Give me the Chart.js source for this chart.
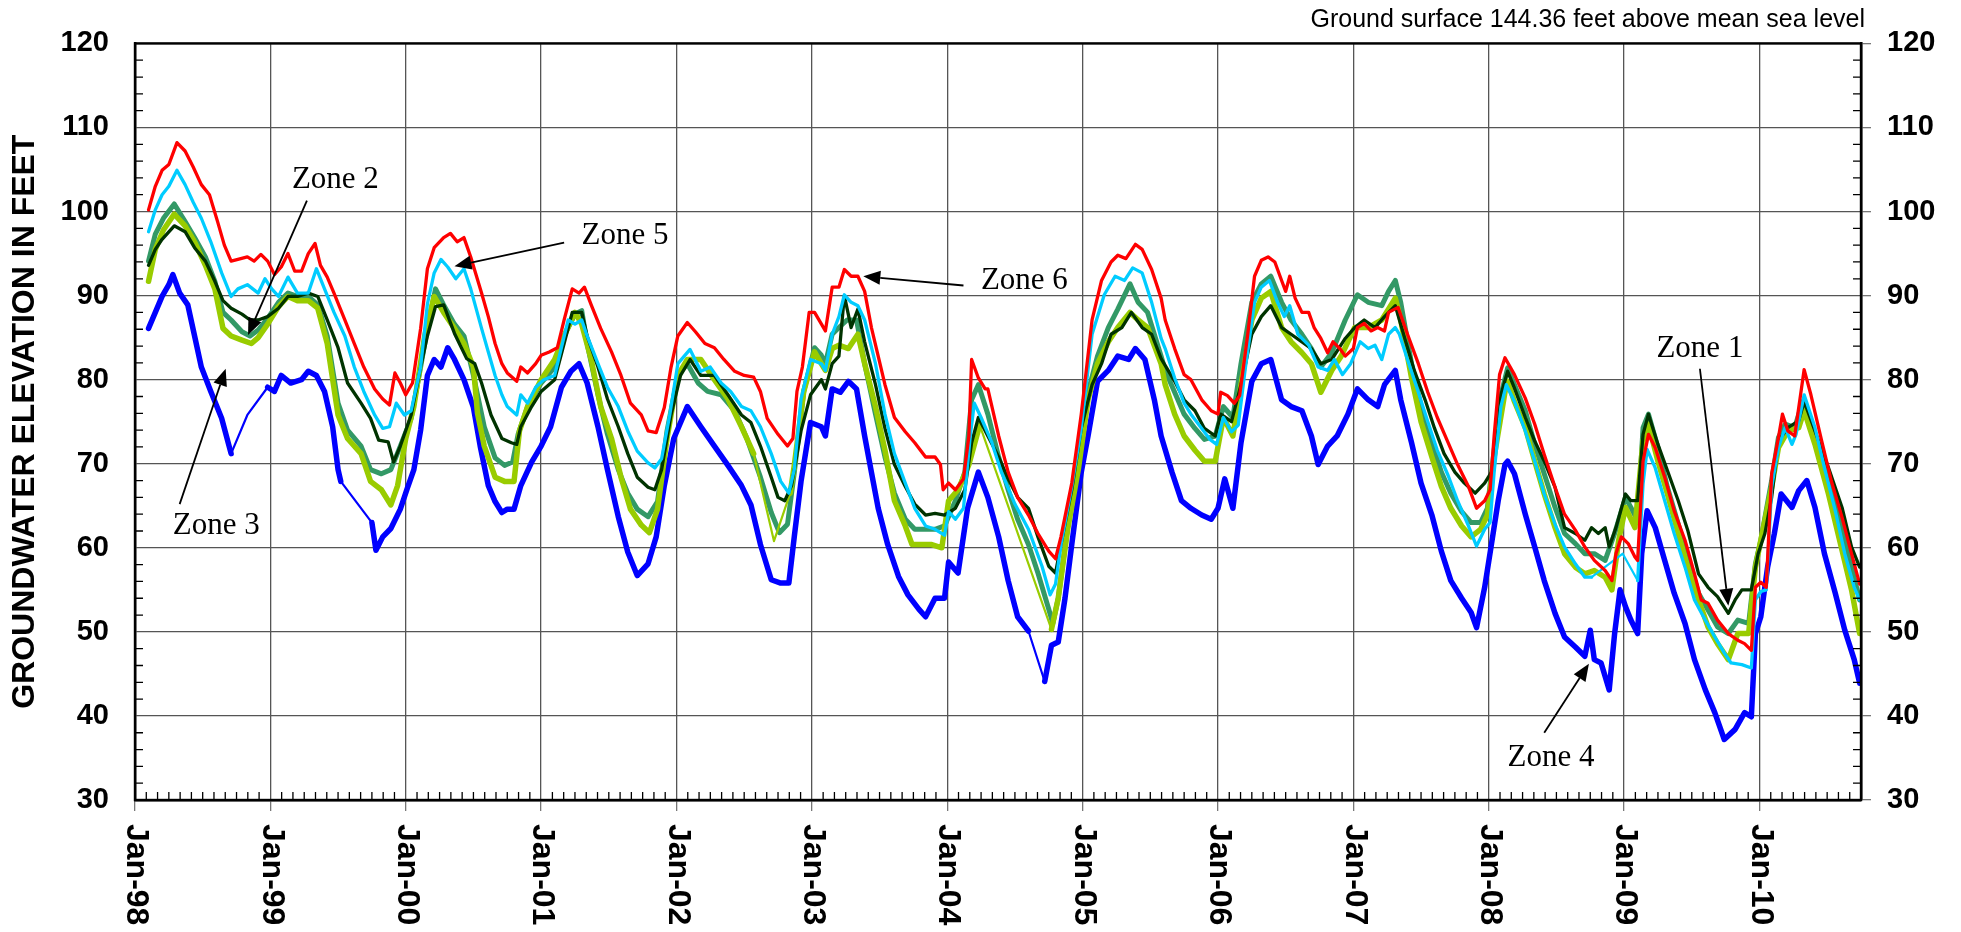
<!DOCTYPE html>
<html><head><meta charset="utf-8">
<script src="https://cdn.jsdelivr.net/npm/chart.js@4.4.0/dist/chart.umd.min.js"></script>
<style>html,body{margin:0;padding:0;background:#fff;}#wrap{width:1961px;height:932px;}</style>
</head><body><div id="wrap"><canvas id="c" width="1961" height="932"></canvas></div>
<script>
const tickYears = [1998,1999,2000,2001,2002,2003,2004,2005,2006,2007,2008,2009,2010];
const tickLabels = ['Jan-98','Jan-99','Jan-00','Jan-01','Jan-02','Jan-03','Jan-04','Jan-05','Jan-06','Jan-07','Jan-08','Jan-09','Jan-10'];
const yTitle = 'GROUNDWATER ELEVATION IN FEET';
const caption = 'Ground surface 144.36 feet above mean sea level';

const zone6 = [[1998.10,100.2],[1998.15,103.0],[1998.20,104.9],[1998.25,105.6],[1998.31,108.2],[1998.37,107.2],[1998.43,105.3],[1998.49,103.2],[1998.55,102.0],[1998.61,98.8],[1998.66,96.0],[1998.71,94.1],[1998.76,94.3],[1998.83,94.6],[1998.88,94.1],[1998.93,94.9],[1998.98,94.1],[1999.03,92.5],[1999.08,93.4],[1999.13,95.0],[1999.18,92.9],[1999.23,92.9],[1999.28,95.0],[1999.33,96.2],[1999.37,93.6],[1999.42,92.2],[1999.47,90.3],[1999.55,87.1],[1999.62,84.3],[1999.69,81.5],[1999.77,78.9],[1999.83,77.7],[1999.88,77.0],[1999.92,80.8],[1999.96,79.6],[2000.00,78.2],[2000.05,79.6],[2000.11,86.1],[2000.16,93.2],[2000.21,95.7],[2000.28,96.9],[2000.33,97.4],[2000.38,96.4],[2000.43,96.9],[2000.48,94.6],[2000.56,90.3],[2000.61,87.5],[2000.66,84.3],[2000.71,81.9],[2000.75,80.8],[2000.82,79.8],[2000.85,81.5],[2000.90,80.8],[2000.96,81.9],[2001.00,82.9],[2001.06,83.3],[2001.12,83.8],[2001.17,87.1],[2001.23,90.8],[2001.28,90.3],[2001.32,91.0],[2001.37,88.9],[2001.44,86.1],[2001.52,83.3],[2001.59,80.5],[2001.66,77.2],[2001.74,75.8],[2001.79,73.9],[2001.85,73.7],[2001.91,76.7],[2001.96,81.5],[2002.01,85.2],[2002.08,86.8],[2002.14,85.7],[2002.21,84.3],[2002.28,83.8],[2002.35,82.4],[2002.43,81.0],[2002.50,80.5],[2002.57,80.3],[2002.62,78.6],[2002.67,75.4],[2002.75,73.5],[2002.82,72.1],[2002.86,73.0],[2002.89,78.6],[2002.93,81.5],[2002.98,88.0],[2003.02,88.0],[2003.10,85.8],[2003.15,91.0],[2003.20,91.0],[2003.24,93.1],[2003.29,92.3],[2003.34,92.3],[2003.39,90.5],[2003.44,86.2],[2003.49,82.8],[2003.54,79.4],[2003.61,75.5],[2003.69,73.8],[2003.76,72.5],[2003.84,70.8],[2003.91,70.8],[2003.95,69.9],[2003.97,66.9],[2004.01,67.7],[2004.06,66.9],[2004.12,68.2],[2004.16,73.3],[2004.18,82.4],[2004.23,80.2],[2004.28,78.9],[2004.30,78.9],[2004.38,73.3],[2004.45,69.0],[2004.52,66.0],[2004.60,63.9],[2004.67,61.7],[2004.75,59.6],[2004.80,58.7],[2004.84,61.3],[2004.92,67.7],[2004.99,75.9],[2005.07,87.1],[2005.14,91.8],[2005.21,94.0],[2005.26,94.8],[2005.32,94.4],[2005.39,96.1],[2005.44,95.5],[2005.51,93.1],[2005.58,89.7],[2005.61,87.1],[2005.68,83.7],[2005.75,80.6],[2005.80,80.0],[2005.88,77.6],[2005.95,76.3],[2006.00,75.9],[2006.02,78.5],[2006.07,78.1],[2006.12,77.2],[2006.16,78.1],[2006.22,85.4],[2006.27,92.3],[2006.32,94.2],[2006.37,94.6],[2006.42,94.0],[2006.47,91.8],[2006.50,90.5],[2006.53,92.3],[2006.57,89.7],[2006.62,88.0],[2006.67,88.0],[2006.71,86.2],[2006.76,84.9],[2006.81,83.2],[2006.85,84.5],[2006.90,83.7],[2006.94,82.8],[2007.00,83.7],[2007.03,86.2],[2007.08,86.7],[2007.13,85.8],[2007.18,86.2],[2007.23,85.8],[2007.26,88.0],[2007.33,88.6],[2007.40,85.4],[2007.48,81.9],[2007.55,78.5],[2007.62,75.5],[2007.70,72.5],[2007.77,69.9],[2007.85,67.3],[2007.91,64.7],[2007.97,65.6],[2008.01,66.9],[2008.04,73.3],[2008.08,80.6],[2008.12,82.6],[2008.19,80.6],[2008.27,77.8],[2008.34,74.7],[2008.41,71.1],[2008.49,67.2],[2008.56,64.0],[2008.64,62.1],[2008.71,60.1],[2008.78,58.5],[2008.86,57.3],[2008.91,56.1],[2008.94,59.3],[2008.98,61.3],[2009.03,60.5],[2009.08,58.9],[2009.10,58.5],[2009.14,70.3],[2009.18,73.5],[2009.23,71.9],[2009.30,68.4],[2009.37,64.4],[2009.45,60.9],[2009.52,56.9],[2009.57,53.8],[2009.62,53.4],[2009.69,51.4],[2009.77,49.8],[2009.84,49.0],[2009.89,48.6],[2009.94,47.8],[2009.97,55.3],[2010.01,55.9],[2010.05,55.3],[2010.09,68.8],[2010.14,73.1],[2010.17,75.9],[2010.21,73.9],[2010.26,73.3],[2010.30,77.8],[2010.33,81.2],[2010.38,78.2],[2010.46,72.7],[2010.53,68.0],[2010.61,63.6],[2010.68,59.3],[2010.74,55.7]];

const zone5 = [[1998.10,97.6],[1998.15,100.2],[1998.20,102.0],[1998.25,103.0],[1998.31,104.9],[1998.37,103.2],[1998.43,101.1],[1998.49,99.2],[1998.56,96.4],[1998.64,92.7],[1998.71,89.9],[1998.76,90.8],[1998.83,91.3],[1998.91,90.3],[1998.96,92.0],[1999.01,90.8],[1999.06,89.9],[1999.13,92.2],[1999.20,90.3],[1999.28,90.3],[1999.34,93.2],[1999.40,90.8],[1999.47,88.0],[1999.55,85.2],[1999.62,81.5],[1999.69,78.6],[1999.77,75.8],[1999.83,74.2],[1999.88,74.4],[1999.93,77.2],[1999.99,75.8],[2000.04,76.3],[2000.11,81.5],[2000.16,89.0],[2000.21,92.7],[2000.26,94.3],[2000.31,93.4],[2000.37,92.0],[2000.43,93.2],[2000.48,90.8],[2000.56,86.1],[2000.61,83.3],[2000.66,80.5],[2000.71,78.2],[2000.75,76.8],[2000.82,75.8],[2000.85,78.2],[2000.90,77.2],[2000.96,79.1],[2001.02,80.0],[2001.10,80.5],[2001.15,83.8],[2001.20,87.1],[2001.25,86.6],[2001.30,87.1],[2001.34,85.2],[2001.42,81.9],[2001.49,79.1],[2001.57,76.8],[2001.64,73.9],[2001.71,71.5],[2001.79,70.1],[2001.84,69.5],[2001.89,70.6],[2001.95,75.8],[2002.01,81.9],[2002.10,83.6],[2002.18,81.0],[2002.25,81.5],[2002.33,79.6],[2002.40,78.6],[2002.48,76.8],[2002.55,76.3],[2002.62,74.4],[2002.70,71.2],[2002.77,67.9],[2002.83,66.5],[2002.87,69.3],[2002.92,77.7],[2002.99,82.4],[2003.07,81.9],[2003.10,81.1],[2003.15,85.4],[2003.20,87.5],[2003.24,90.1],[2003.29,89.2],[2003.34,88.8],[2003.39,87.1],[2003.47,81.9],[2003.54,75.9],[2003.61,71.2],[2003.69,67.7],[2003.76,64.7],[2003.84,62.6],[2003.91,62.2],[2003.98,61.5],[2004.01,64.3],[2004.06,63.4],[2004.12,64.7],[2004.17,73.3],[2004.20,77.2],[2004.25,75.5],[2004.33,72.5],[2004.40,69.0],[2004.50,65.2],[2004.60,62.2],[2004.70,57.8],[2004.76,54.4],[2004.80,55.7],[2004.84,60.4],[2004.92,67.3],[2004.99,74.2],[2005.07,85.4],[2005.16,90.1],[2005.24,92.3],[2005.31,91.8],[2005.37,93.3],[2005.44,92.7],[2005.51,89.2],[2005.58,84.9],[2005.61,83.7],[2005.68,80.2],[2005.75,77.2],[2005.80,75.9],[2005.88,74.2],[2005.94,72.9],[2005.99,72.3],[2006.04,75.5],[2006.10,73.8],[2006.15,74.6],[2006.20,81.1],[2006.27,89.2],[2006.32,91.0],[2006.38,91.8],[2006.44,89.2],[2006.49,87.5],[2006.53,88.8],[2006.59,85.4],[2006.67,84.1],[2006.74,81.5],[2006.81,81.1],[2006.86,82.4],[2006.92,80.6],[2006.98,81.9],[2007.05,84.5],[2007.11,83.7],[2007.16,84.1],[2007.21,82.4],[2007.26,85.4],[2007.31,86.2],[2007.34,85.4],[2007.40,82.4],[2007.48,78.5],[2007.55,75.0],[2007.62,71.6],[2007.70,68.6],[2007.77,65.6],[2007.85,62.6],[2007.91,60.2],[2007.97,62.2],[2008.01,63.0],[2008.04,69.0],[2008.09,76.8],[2008.13,79.4],[2008.19,77.4],[2008.27,73.9],[2008.34,70.3],[2008.41,66.4],[2008.49,62.8],[2008.56,60.1],[2008.64,58.1],[2008.71,56.5],[2008.76,56.5],[2008.99,59.3],[2009.10,56.1],[2009.14,67.6],[2009.17,71.7],[2009.23,69.5],[2009.30,65.6],[2009.37,61.7],[2009.45,57.7],[2009.52,53.8],[2009.60,51.4],[2009.67,49.4],[2009.74,47.5],[2009.79,46.3],[2009.87,46.1],[2009.94,45.7],[2009.97,53.8],[2010.01,54.8],[2010.05,55.0],[2010.09,67.2],[2010.14,71.9],[2010.19,74.3],[2010.24,72.3],[2010.27,73.5],[2010.33,78.2],[2010.41,74.3],[2010.48,69.5],[2010.56,64.4],[2010.63,59.3],[2010.70,55.3],[2010.74,53.8]];

const zone1 = [[1998.10,93.6],[1998.15,95.5],[1998.20,96.7],[1998.29,98.3],[1998.37,97.6],[1998.44,95.7],[1998.52,94.1],[1998.59,91.7],[1998.65,89.4],[1998.71,88.5],[1998.79,87.8],[1998.85,87.1],[1998.91,87.1],[1998.98,87.5],[1999.06,88.5],[1999.13,89.9],[1999.20,89.9],[1999.28,90.3],[1999.35,89.9],[1999.42,87.1],[1999.50,83.8],[1999.57,79.6],[1999.67,77.2],[1999.74,75.4],[1999.80,72.8],[1999.87,72.6],[1999.91,70.2],[1999.96,72.1],[2000.04,75.8],[2000.11,81.5],[2000.16,85.2],[2000.22,88.7],[2000.28,88.9],[2000.36,85.5],[2000.45,82.5],[2000.51,81.9],[2000.56,79.6],[2000.63,75.8],[2000.71,73.0],[2000.78,72.5],[2000.82,72.3],[2000.85,74.4],[2000.93,76.8],[2001.00,78.6],[2001.10,80.0],[2001.17,84.3],[2001.23,88.0],[2001.30,88.0],[2001.34,85.2],[2001.42,81.5],[2001.49,77.7],[2001.57,74.4],[2001.64,71.2],[2001.71,68.4],[2001.79,67.2],[2001.84,66.9],[2001.89,69.3],[2001.96,75.8],[2002.03,80.5],[2002.10,82.4],[2002.18,80.5],[2002.28,80.5],[2002.38,78.2],[2002.48,75.8],[2002.55,74.9],[2002.62,72.1],[2002.70,68.4],[2002.75,66.0],[2002.80,65.6],[2002.85,67.4],[2002.92,73.9],[2002.99,78.2],[2003.07,80.0],[2003.10,78.9],[2003.15,81.9],[2003.20,82.8],[2003.24,90.0],[2003.29,86.2],[2003.34,88.4],[2003.39,84.5],[2003.47,79.4],[2003.54,74.2],[2003.61,69.9],[2003.69,67.3],[2003.76,65.2],[2003.84,63.9],[2003.91,64.1],[2003.98,63.9],[2004.06,64.7],[2004.13,66.9],[2004.18,72.5],[2004.23,75.5],[2004.30,73.3],[2004.38,70.8],[2004.45,68.2],[2004.52,66.0],[2004.60,64.7],[2004.67,61.3],[2004.75,57.8],[2004.80,57.0],[2004.84,60.4],[2004.92,66.9],[2004.99,74.2],[2005.07,79.4],[2005.14,81.9],[2005.21,85.4],[2005.29,86.2],[2005.36,88.0],[2005.44,86.2],[2005.51,85.4],[2005.58,82.5],[2005.68,79.8],[2005.75,77.6],[2005.83,76.3],[2005.90,74.2],[2005.98,73.3],[2006.02,75.9],[2006.10,75.0],[2006.17,79.4],[2006.25,85.4],[2006.32,87.5],[2006.39,88.8],[2006.47,86.2],[2006.54,85.4],[2006.62,84.5],[2006.69,83.7],[2006.76,81.9],[2006.84,82.4],[2006.94,84.9],[2007.01,86.2],[2007.08,87.1],[2007.16,86.2],[2007.23,87.5],[2007.31,88.8],[2007.38,84.9],[2007.45,81.1],[2007.53,77.6],[2007.60,74.2],[2007.67,71.2],[2007.75,69.0],[2007.82,67.7],[2007.90,66.5],[2007.97,67.7],[2008.02,69.0],[2008.07,74.2],[2008.09,78.2],[2008.14,81.0],[2008.19,79.0],[2008.27,75.5],[2008.34,72.7],[2008.41,70.3],[2008.49,67.2],[2008.56,62.4],[2008.64,61.7],[2008.71,60.9],[2008.76,62.4],[2008.81,61.7],[2008.86,62.4],[2008.89,60.1],[2008.94,62.4],[2009.01,66.4],[2009.05,65.6],[2009.10,65.6],[2009.14,73.5],[2009.18,75.9],[2009.25,72.3],[2009.32,69.2],[2009.40,65.6],[2009.47,62.1],[2009.55,56.9],[2009.62,55.3],[2009.69,54.2],[2009.77,52.2],[2009.82,53.8],[2009.87,55.0],[2009.94,55.0],[2009.99,59.3],[2010.04,61.7],[2010.09,66.0],[2010.14,72.7],[2010.21,74.3],[2010.29,75.1],[2010.33,77.4],[2010.41,73.9],[2010.51,69.5],[2010.61,64.8],[2010.68,60.1],[2010.74,57.7]];

const zone2 = [[1998.10,94.1],[1998.15,97.3],[1998.21,99.2],[1998.29,100.9],[1998.37,98.8],[1998.44,96.9],[1998.52,94.6],[1998.59,91.7],[1998.65,88.0],[1998.71,87.1],[1998.79,85.7],[1998.85,85.2],[1998.91,85.9],[1998.98,87.3],[1999.06,89.2],[1999.13,90.3],[1999.20,89.9],[1999.28,89.9],[1999.35,88.9],[1999.42,85.2],[1999.50,77.2],[1999.57,74.0],[1999.67,72.1],[1999.74,69.3],[1999.82,68.8],[1999.89,69.3],[1999.96,72.1],[2000.04,75.4],[2000.11,81.5],[2000.16,86.1],[2000.22,90.8],[2000.28,88.9],[2000.36,86.6],[2000.43,85.2],[2000.50,80.5],[2000.58,74.4],[2000.66,70.7],[2000.73,69.8],[2000.79,70.2],[2000.83,73.5],[2000.90,76.8],[2001.00,79.6],[2001.10,81.5],[2001.17,85.2],[2001.25,87.8],[2001.30,88.2],[2001.34,84.3],[2001.42,78.2],[2001.49,73.5],[2001.57,69.3],[2001.64,66.5],[2001.71,64.6],[2001.79,63.7],[2001.86,65.5],[2001.93,73.9],[2002.01,80.5],[2002.08,81.9],[2002.16,79.6],[2002.23,78.6],[2002.33,78.2],[2002.43,76.3],[2002.52,73.0],[2002.62,68.4],[2002.70,64.2],[2002.76,61.8],[2002.82,62.8],[2002.87,68.9],[2002.94,78.6],[2003.02,83.8],[2003.07,82.9],[2003.10,81.9],[2003.15,85.4],[2003.20,86.2],[2003.26,87.1],[2003.33,87.1],[2003.39,81.9],[2003.47,75.9],[2003.54,70.8],[2003.61,66.5],[2003.69,63.4],[2003.76,62.2],[2003.84,62.2],[2003.91,62.2],[2003.98,62.6],[2004.06,65.6],[2004.13,69.0],[2004.18,77.6],[2004.23,79.4],[2004.30,75.9],[2004.38,70.8],[2004.45,66.9],[2004.52,63.4],[2004.60,60.4],[2004.67,57.0],[2004.75,52.7],[2004.78,51.0],[2004.82,54.0],[2004.89,62.6],[2004.97,71.2],[2005.04,78.5],[2005.11,82.8],[2005.19,86.2],[2005.26,88.4],[2005.35,91.4],[2005.41,89.2],[2005.48,88.0],[2005.58,82.8],[2005.61,81.1],[2005.68,78.5],[2005.75,75.9],[2005.83,74.2],[2005.90,72.9],[2005.98,73.3],[2006.04,76.8],[2006.11,75.5],[2006.17,81.9],[2006.25,89.2],[2006.32,91.4],[2006.39,92.3],[2006.47,89.2],[2006.54,87.1],[2006.62,85.4],[2006.69,83.7],[2006.76,81.5],[2006.84,83.2],[2006.94,87.1],[2007.03,90.1],[2007.11,89.2],[2007.21,88.8],[2007.26,90.5],[2007.31,91.8],[2007.35,89.2],[2007.43,81.9],[2007.50,76.8],[2007.58,72.5],[2007.65,69.0],[2007.72,66.5],[2007.80,64.3],[2007.87,63.0],[2007.94,63.0],[2007.99,64.7],[2008.04,71.6],[2008.09,78.2],[2008.14,81.4],[2008.19,79.4],[2008.27,76.3],[2008.34,72.3],[2008.41,68.8],[2008.49,64.8],[2008.56,61.7],[2008.64,60.5],[2008.71,59.3],[2008.78,59.3],[2008.86,58.5],[2008.93,61.7],[2009.01,66.0],[2009.05,64.8],[2009.10,63.2],[2009.14,74.3],[2009.18,75.9],[2009.25,71.9],[2009.32,67.2],[2009.40,62.8],[2009.47,58.9],[2009.55,54.6],[2009.62,52.6],[2009.69,50.6],[2009.77,49.8],[2009.84,51.4],[2009.92,51.0],[2009.97,58.1],[2010.01,60.9],[2010.09,68.0],[2010.14,73.1],[2010.19,74.7],[2010.26,74.3],[2010.32,77.4],[2010.41,73.1],[2010.51,68.0],[2010.61,62.4],[2010.68,57.7],[2010.74,53.8]];

const zone3 = [[1998.10,91.7],[1998.15,95.5],[1998.21,97.8],[1998.29,99.7],[1998.37,98.3],[1998.44,96.4],[1998.52,93.6],[1998.59,90.8],[1998.65,86.1],[1998.71,85.2],[1998.79,84.7],[1998.86,84.3],[1998.91,85.0],[1998.98,86.6],[1999.06,88.7],[1999.13,89.9],[1999.20,89.4],[1999.28,89.4],[1999.35,88.5],[1999.42,84.3],[1999.50,75.8],[1999.57,73.0],[1999.67,71.2],[1999.74,67.9],[1999.82,66.9],[1999.89,65.1],[1999.94,67.4],[2000.00,73.0],[2000.06,76.8],[2000.14,85.2],[2000.21,89.9],[2000.28,88.0],[2000.36,86.1],[2000.43,84.3],[2000.50,81.5],[2000.53,76.0],[2000.58,72.1],[2000.66,68.4],[2000.73,67.9],[2000.80,67.9],[2000.84,73.9],[2000.90,76.8],[2001.00,80.0],[2001.10,82.4],[2001.17,85.2],[2001.25,88.0],[2001.30,86.6],[2001.37,82.4],[2001.44,76.8],[2001.52,73.0],[2001.59,68.4],[2001.66,64.6],[2001.74,62.7],[2001.80,61.8],[2001.86,64.6],[2001.93,73.0],[2002.01,80.5],[2002.08,82.4],[2002.18,82.4],[2002.28,80.0],[2002.38,77.7],[2002.48,74.4],[2002.57,71.2],[2002.72,60.8],[2002.84,66.5],[2002.87,69.8],[2002.94,78.6],[2003.02,83.3],[2003.07,81.9],[2003.10,81.1],[2003.15,83.7],[2003.20,84.1],[2003.27,83.7],[2003.34,85.4],[2003.39,81.9],[2003.47,76.8],[2003.54,71.6],[2003.61,65.6],[2003.69,62.6],[2003.74,60.4],[2003.81,60.4],[2003.88,60.4],[2003.96,60.0],[2004.01,65.6],[2004.08,66.9],[2004.16,69.9],[2004.24,74.6],[2004.77,50.3],[2004.82,54.0],[2004.89,62.2],[2004.97,69.5],[2005.04,77.6],[2005.11,81.9],[2005.19,84.5],[2005.26,86.2],[2005.35,88.0],[2005.41,87.1],[2005.48,86.2],[2005.58,81.9],[2005.61,79.4],[2005.68,75.9],[2005.75,73.3],[2005.83,71.6],[2005.90,70.3],[2005.98,70.3],[2006.04,75.5],[2006.11,73.3],[2006.17,79.4],[2006.25,87.1],[2006.32,89.7],[2006.39,90.5],[2006.47,86.2],[2006.54,84.5],[2006.62,83.2],[2006.69,81.9],[2006.76,78.5],[2006.84,81.1],[2006.91,82.8],[2007.01,86.2],[2007.11,86.2],[2007.21,87.1],[2007.31,89.7],[2007.35,87.1],[2007.43,80.2],[2007.50,75.0],[2007.58,70.8],[2007.65,67.3],[2007.72,64.7],[2007.80,62.6],[2007.87,61.3],[2007.94,62.2],[2007.99,63.9],[2008.04,70.8],[2008.12,78.5],[2008.14,79.8],[2008.19,77.4],[2008.27,74.3],[2008.34,70.3],[2008.41,66.4],[2008.49,62.4],[2008.56,59.3],[2008.64,57.7],[2008.71,56.9],[2008.78,57.3],[2008.86,56.5],[2008.91,55.0],[2008.96,60.9],[2009.01,64.8],[2009.08,62.4],[2009.14,72.7],[2009.18,74.7],[2009.25,70.3],[2009.32,66.4],[2009.40,61.7],[2009.47,57.7],[2009.55,53.8],[2009.62,50.6],[2009.69,48.6],[2009.77,46.7],[2009.84,49.8],[2009.92,49.8],[2009.97,57.7],[2010.01,60.9],[2010.09,67.2],[2010.14,71.9],[2010.21,73.9],[2010.29,74.3],[2010.33,76.3],[2010.41,72.3],[2010.51,66.4],[2010.61,59.7],[2010.68,55.0],[2010.74,49.8]];

const zone4 = [[1998.10,86.1],[1998.15,88.0],[1998.20,89.9],[1998.25,91.3],[1998.28,92.5],[1998.33,90.3],[1998.39,88.9],[1998.44,85.2],[1998.49,81.5],[1998.56,78.6],[1998.64,75.4],[1998.71,71.2],[1998.83,75.8],[1998.98,79.1],[1999.03,78.6],[1999.08,80.5],[1999.15,79.6],[1999.23,80.0],[1999.28,81.0],[1999.34,80.5],[1999.40,78.6],[1999.46,74.4],[1999.50,69.3],[1999.52,67.9],[1999.75,63.0],[1999.78,59.7],[1999.83,61.3],[1999.89,62.3],[1999.96,64.6],[2000.01,67.0],[2000.06,69.3],[2000.11,74.0],[2000.16,80.5],[2000.21,82.4],[2000.26,81.5],[2000.31,83.8],[2000.36,82.4],[2000.43,80.0],[2000.50,76.7],[2000.55,72.1],[2000.61,67.4],[2000.66,65.5],[2000.71,64.2],[2000.75,64.6],[2000.80,64.6],[2000.85,67.4],[2000.93,70.2],[2001.00,72.1],[2001.07,74.4],[2001.15,79.1],[2001.22,81.0],[2001.28,81.9],[2001.34,79.6],[2001.42,74.4],[2001.49,69.3],[2001.57,63.7],[2001.64,59.5],[2001.71,56.7],[2001.79,58.1],[2001.85,61.3],[2001.91,67.4],[2001.98,73.0],[2002.08,76.8],[2002.18,74.4],[2002.28,72.1],[2002.38,69.8],[2002.48,67.4],[2002.55,65.1],[2002.62,60.4],[2002.70,56.2],[2002.77,55.8],[2002.83,55.8],[2002.87,61.3],[2002.92,67.9],[2002.99,74.9],[2003.07,74.4],[2003.10,73.3],[2003.15,78.9],[2003.21,78.5],[2003.27,79.8],[2003.33,78.9],[2003.39,73.3],[2003.44,69.0],[2003.49,64.7],[2003.56,60.4],[2003.64,56.6],[2003.71,54.4],[2003.79,52.7],[2003.84,51.8],[2003.91,54.0],[2003.98,54.0],[2004.01,58.3],[2004.08,57.0],[2004.15,64.7],[2004.23,69.0],[2004.30,66.0],[2004.38,61.3],[2004.45,56.1],[2004.52,51.8],[2004.60,50.1],[2004.72,44.1],[2004.77,48.4],[2004.82,48.8],[2004.87,54.0],[2004.92,60.4],[2004.99,69.0],[2005.04,73.3],[2005.11,79.8],[2005.19,81.1],[2005.26,82.8],[2005.34,82.4],[2005.39,83.7],[2005.46,82.4],[2005.53,77.6],[2005.58,73.3],[2005.66,69.0],[2005.73,65.6],[2005.80,64.7],[2005.88,63.9],[2005.95,63.4],[2006.00,64.7],[2006.05,68.2],[2006.11,64.7],[2006.17,72.5],[2006.25,79.8],[2006.32,81.9],[2006.39,82.4],[2006.47,77.6],[2006.54,76.8],[2006.62,76.3],[2006.69,73.3],[2006.74,69.9],[2006.81,72.1],[2006.88,73.3],[2006.96,75.9],[2007.03,78.9],[2007.11,77.6],[2007.18,76.8],[2007.23,79.4],[2007.31,81.1],[2007.35,77.6],[2007.43,72.5],[2007.50,67.7],[2007.58,63.9],[2007.65,59.6],[2007.72,56.1],[2007.80,54.0],[2007.87,52.3],[2007.91,50.5],[2007.97,55.3],[2008.02,60.4],[2008.07,65.6],[2008.12,69.9],[2008.14,70.3],[2008.19,68.8],[2008.27,64.0],[2008.34,60.1],[2008.41,56.1],[2008.49,52.2],[2008.56,49.4],[2008.64,48.2],[2008.71,47.1],[2008.75,50.2],[2008.78,46.7],[2008.83,46.3],[2008.89,43.1],[2008.93,49.8],[2008.97,55.0],[2009.01,53.0],[2009.05,51.4],[2009.10,49.8],[2009.13,59.3],[2009.17,64.4],[2009.23,62.4],[2009.30,58.5],[2009.37,54.6],[2009.45,51.0],[2009.52,46.7],[2009.60,43.1],[2009.67,40.4],[2009.74,37.2],[2009.82,38.4],[2009.89,40.4],[2009.94,39.9],[2009.97,49.8],[2010.01,51.8],[2010.06,57.7],[2010.11,61.7],[2010.16,66.4],[2010.24,64.8],[2010.29,66.8],[2010.35,68.0],[2010.41,64.8],[2010.48,59.3],[2010.56,54.6],[2010.63,50.2],[2010.70,46.7],[2010.74,43.9]];

// annotation anchors in data coordinates: text centre/baseline, arrow start, arrow tip
const zoneNotes = [
  {text:'Zone 2', tx:1999.48, ty:102.8, x0:1999.27, y0:101.3, x1:1998.835, y1:85.3},
  {text:'Zone 3', tx:1998.60, ty:61.6,  x0:1998.33, y0:65.2,  x1:1998.67, y1:81.3},
  {text:'Zone 5', tx:2001.62, ty:96.1,  x0:2001.17, y0:96.3,  x1:2000.36, y1:93.5},
  {text:'Zone 6', tx:2004.57, ty:90.75, x0:2004.12, y0:91.2,  x1:2003.38, y1:92.3},
  {text:'Zone 1', tx:2009.56, ty:82.7,  x0:2009.56, y0:81.3,  x1:2009.77, y1:53.1},
  {text:'Zone 4', tx:2008.46, ty:34.1,  x0:2008.41, y0:38.0,  x1:2008.74, y1:46.2}
];

const SANS = '"Liberation Sans", Arial, sans-serif';
const SERIF = '"Liberation Serif", "Times New Roman", serif';

const seriesStyle = [
  {label:'Zone 6', data:zone6, color:'#FF0000', w:3.3},
  {label:'Zone 5', data:zone5, color:'#00CCFF', w:3.3},
  {label:'Zone 1', data:zone1, color:'#003300', w:3.3},
  {label:'Zone 3', data:zone3, color:'#99CC00', w:5.5},
  {label:'Zone 2', data:zone2, color:'#339966', w:5.0},
  {label:'Zone 4', data:zone4, color:'#0000FF', w:5.5}
];

function drawArrow(ctx, x0, y0, x1, y1) {
  const ang = Math.atan2(y1 - y0, x1 - x0);
  const L = 17, W = 7;
  const bx = x1 - L * Math.cos(ang), by = y1 - L * Math.sin(ang);
  ctx.beginPath(); ctx.moveTo(x0, y0); ctx.lineTo(bx, by); ctx.lineWidth = 1.8; ctx.stroke();
  ctx.beginPath(); ctx.moveTo(x1, y1);
  ctx.lineTo(bx + W * Math.sin(ang), by - W * Math.cos(ang));
  ctx.lineTo(bx - W * Math.sin(ang), by + W * Math.cos(ang));
  ctx.closePath(); ctx.fill();
}

const decor = {
  id: 'decor',
  afterDraw(chart) {
    const ctx = chart.ctx, xs = chart.scales.x, ys = chart.scales.y, a = chart.chartArea;
    ctx.save();
    ctx.strokeStyle = '#000'; ctx.lineWidth = 1.3;
    ctx.beginPath();
    for (let m = 1; ; m++) {
      const t = 1998 + m / 12; if (t > xs.max) break;
      if (m % 12 === 0) continue;
      const px = xs.getPixelForValue(t);
      ctx.moveTo(px, a.bottom); ctx.lineTo(px, a.bottom - 8);
    }
    for (let v = 32; v < 120; v += 2) {
      if (v % 10 === 0) continue;
      const py = ys.getPixelForValue(v);
      ctx.moveTo(a.left, py); ctx.lineTo(a.left + 8, py);
      ctx.moveTo(a.right, py); ctx.lineTo(a.right - 8, py);
    }
    ctx.stroke();
    ctx.lineWidth = 2.4;
    ctx.strokeRect(a.left, a.top, a.right - a.left, a.bottom - a.top);
    // rotated x labels
    ctx.fillStyle = '#000';
    ctx.font = 'bold 32px ' + SANS;
    ctx.textAlign = 'left'; ctx.textBaseline = 'middle';
    tickYears.forEach((yr, i) => {
      const px = xs.getPixelForValue(yr);
      ctx.save(); ctx.translate(px + 1, a.bottom + 24); ctx.rotate(Math.PI / 2);
      ctx.fillText(tickLabels[i], 0, 0); ctx.restore();
    });
    // caption
    ctx.font = '25px ' + SANS; ctx.textAlign = 'right'; ctx.textBaseline = 'alphabetic';
    ctx.fillText(caption, a.right + 4, 27);
    // zone annotations
    ctx.font = '31px ' + SERIF; ctx.textAlign = 'center';
    zoneNotes.forEach(n => {
      ctx.fillText(n.text, xs.getPixelForValue(n.tx), ys.getPixelForValue(n.ty));
      drawArrow(ctx, xs.getPixelForValue(n.x0), ys.getPixelForValue(n.y0), xs.getPixelForValue(n.x1), ys.getPixelForValue(n.y1));
    });
    ctx.restore();
  }
};

const tickFont = {family: SANS, size: 29, weight: 'bold'};

new Chart(document.getElementById('c'), {
  type: 'line',
  data: {
    datasets: seriesStyle.map(s => ({
      label: s.label, data: s.data, borderColor: s.color, backgroundColor: s.color,
      borderWidth: s.w, pointRadius: 0, fill: false, tension: 0, yAxisID: 'y', xAxisID: 'x',
      borderJoinStyle: 'round', borderCapStyle: 'round',
      segment: { borderWidth: c => (c.p1.parsed.x - c.p0.parsed.x > 0.105 ? 2.2 : s.w) }
    }))
  },
  options: {
    responsive: false, animation: false, devicePixelRatio: 1,
    layout: {padding: {top: 40, left: 0, right: 0, bottom: 0}},
    plugins: {legend: {display: false}, tooltip: {enabled: false}},
    scales: {
      x: {
        type: 'linear', position: 'bottom', min: 1998, max: 2010.75,
        ticks: {stepSize: 1, includeBounds: false, display: false},
        grid: {color: '#555', lineWidth: 1.3, drawTicks: true, tickLength: 11, tickColor: '#777'},
        border: {display: true, color: '#000', width: 2.5},
        afterFit: s => { s.height = 132; }
      },
      y: {
        type: 'linear', position: 'left', min: 30, max: 120,
        ticks: {stepSize: 10, font: tickFont, color: '#000', padding: 26},
        grid: {color: '#555', lineWidth: 1.3, drawTicks: false},
        border: {display: true, color: '#000', width: 2.4},
        title: {display: true, text: yTitle, color: '#000', font: {family: SANS, size: 32, weight: 'bold'}, padding: {top: 6, bottom: 0}},
        afterFit: s => { s.width = 135; }
      },
      y2: {
        type: 'linear', position: 'right', min: 30, max: 120,
        ticks: {stepSize: 10, font: tickFont, color: '#000', padding: 16},
        grid: {drawOnChartArea: false, drawTicks: true, tickLength: 10, color: '#777', lineWidth: 1.3},
        border: {display: true, color: '#000', width: 2.5},
        afterFit: s => { s.width = 100; }
      }
    }
  },
  plugins: [decor]
});
</script>
</body></html>
